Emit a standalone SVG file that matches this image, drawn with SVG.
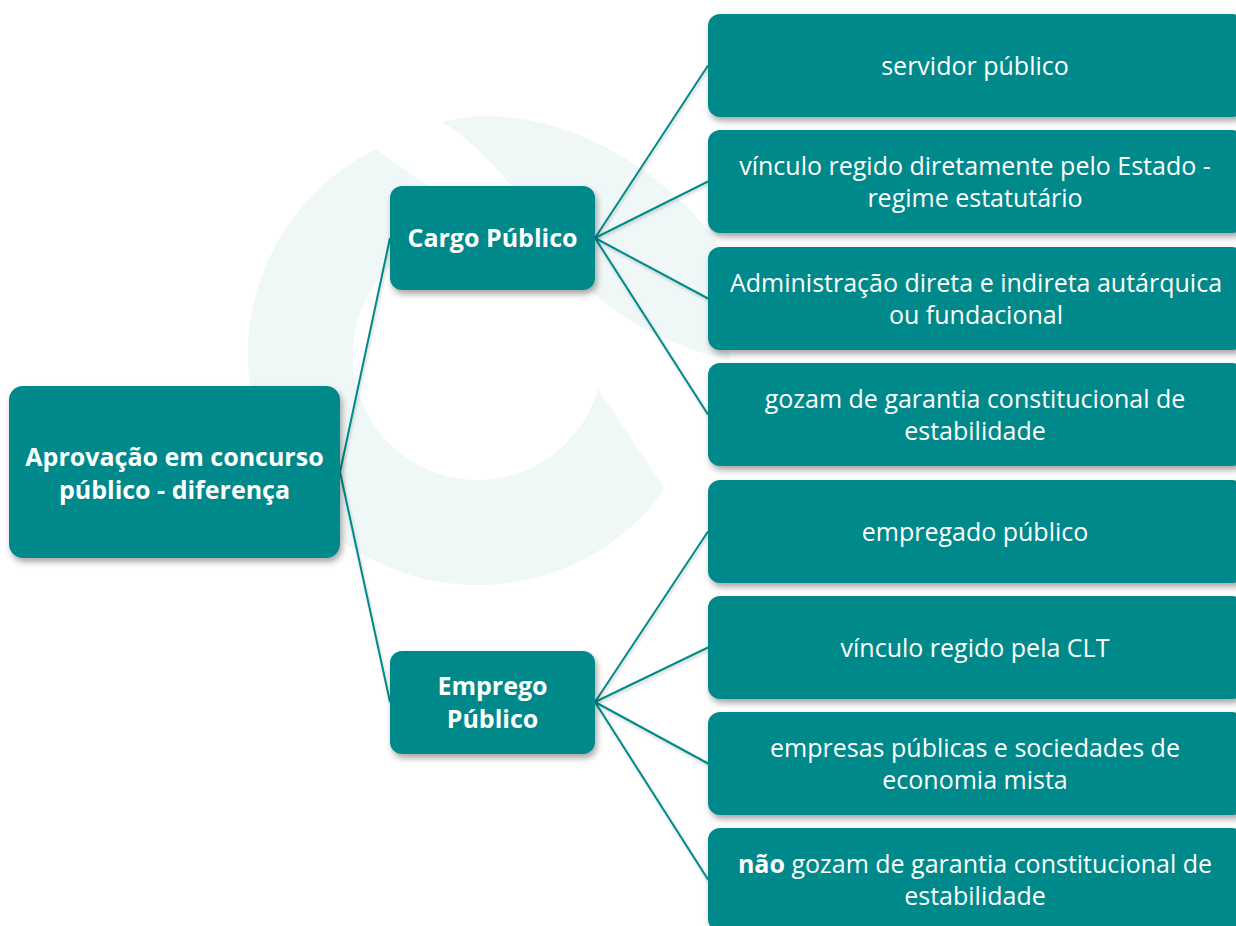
<svg xmlns="http://www.w3.org/2000/svg" width="1236" height="926" viewBox="0 0 1236 926">
<defs>
<filter id="sh" x="-10%" y="-10%" width="130%" height="140%">
<feDropShadow dx="2" dy="4" stdDeviation="3" flood-color="#000" flood-opacity="0.35"/>
</filter>
<filter id="lsh" x="-10%" y="-10%" width="130%" height="130%">
<feDropShadow dx="1" dy="2" stdDeviation="1.5" flood-color="#000" flood-opacity="0.2"/>
</filter>
<style>
.box{fill:#00898A;filter:url(#sh)}
.t{font-family:"Open Sans","Noto Sans","Liberation Sans",sans-serif;font-size:25px;fill:#fff;text-anchor:middle}
.b{font-weight:bold}
.c{stroke:#00898A;stroke-width:2;fill:none}
.wm{fill:#EFF8F7}
</style>
</defs>
<rect width="1236" height="926" fill="#fff"/>
<g id="watermark">
<path class="wm" d="M664.8,489 A230,230 0 1 1 375.7,149 L491.6,230.8 A125,125 0 1 0 598,389 Z"/>
<path class="wm" d="M442,122 C520,100 650,140 730,260 L730,360 C680,350 620,320 590,290 C540,220 490,150 442,122 Z"/>
</g>
<g id="connectors" filter="url(#lsh)">
<line class="c" x1="340" y1="472" x2="390" y2="238"/>
<line class="c" x1="340" y1="472" x2="390" y2="702"/>
<line class="c" x1="595" y1="238" x2="708" y2="65.5"/>
<line class="c" x1="595" y1="238" x2="708" y2="181.5"/>
<line class="c" x1="595" y1="238" x2="708" y2="298.5"/>
<line class="c" x1="595" y1="238" x2="708" y2="414.5"/>
<line class="c" x1="595" y1="702" x2="708" y2="531.5"/>
<line class="c" x1="595" y1="702" x2="708" y2="647.5"/>
<line class="c" x1="595" y1="702" x2="708" y2="763.5"/>
<line class="c" x1="595" y1="702" x2="708" y2="879.5"/>
</g>
<g id="root">
<rect class="box" x="9" y="386" width="331" height="172" rx="14"/>
<text class="t b" x="174.5" y="466">Aprovação em concurso</text>
<text class="t b" x="174.5" y="499">público - diferença</text>
</g>
<g id="cargo">
<rect class="box" x="390" y="186" width="205" height="104" rx="12"/>
<text class="t b" x="492.5" y="247">Cargo Público</text>
</g>
<g id="emprego">
<rect class="box" x="390" y="651" width="205" height="103" rx="12"/>
<text class="t b" x="492.5" y="695">Emprego</text>
<text class="t b" x="492.5" y="728">Público</text>
</g>
<g id="n1">
<rect class="box" x="708" y="14" width="536" height="103" rx="12"/>
<text class="t" x="975" y="75">servidor público</text>
</g>
<g id="n2">
<rect class="box" x="708" y="130" width="536" height="103" rx="12"/>
<text class="t" x="975" y="175">vínculo regido diretamente pelo Estado -</text>
<text class="t" x="975" y="207">regime estatutário</text>
</g>
<g id="n3">
<rect class="box" x="708" y="247" width="536" height="103" rx="12"/>
<text class="t" x="976" y="292">Administração direta e indireta autárquica</text>
<text class="t" x="976" y="324">ou fundacional</text>
</g>
<g id="n4">
<rect class="box" x="708" y="363" width="536" height="103" rx="12"/>
<text class="t" x="975" y="408">gozam de garantia constitucional de</text>
<text class="t" x="975" y="440">estabilidade</text>
</g>
<g id="n5">
<rect class="box" x="708" y="480" width="536" height="103" rx="12"/>
<text class="t" x="975" y="541">empregado público</text>
</g>
<g id="n6">
<rect class="box" x="708" y="596" width="536" height="103" rx="12"/>
<text class="t" x="975" y="657">vínculo regido pela CLT</text>
</g>
<g id="n7">
<rect class="box" x="708" y="712" width="536" height="103" rx="12"/>
<text class="t" x="975" y="757">empresas públicas e sociedades de</text>
<text class="t" x="975" y="789">economia mista</text>
</g>
<g id="n8">
<rect class="box" x="708" y="828" width="536" height="103" rx="12"/>
<text class="t" x="975" y="873"><tspan class="b">não</tspan> gozam de garantia constitucional de</text>
<text class="t" x="975" y="905">estabilidade</text>
</g>
</svg>
